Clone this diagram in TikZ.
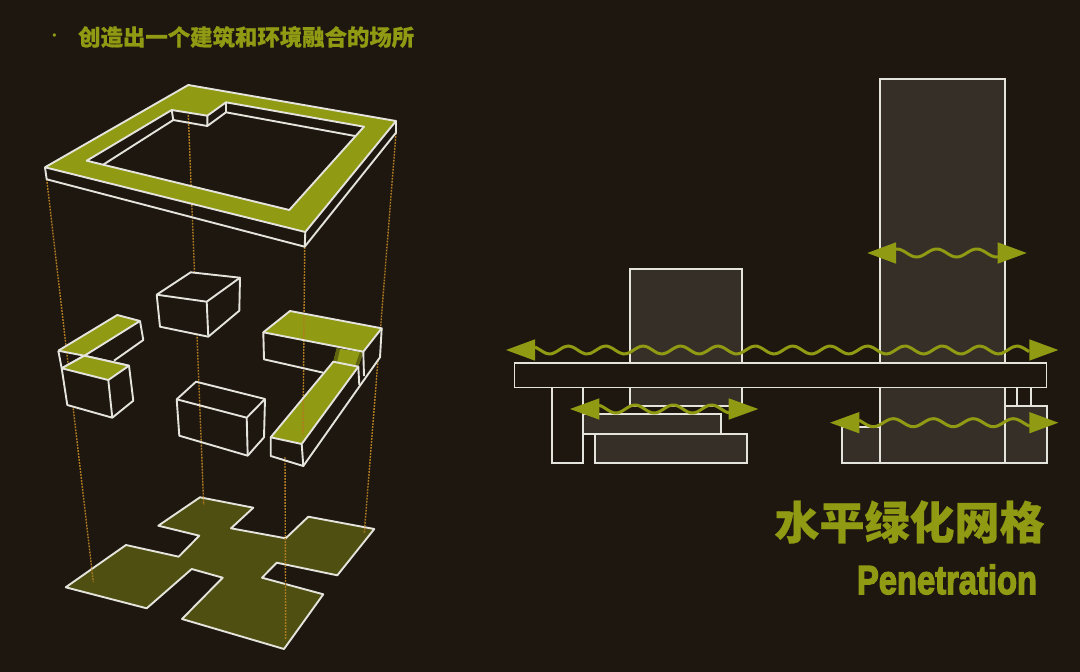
\documentclass[tikz,border=0pt]{standalone}
\usepackage{graphicx}
\usepackage{fontspec}
\setmainfont[BoldFeatures={FakeBold=3.5}]{Liberation Sans}
\newfontfamily\cjk[BoldFeatures={FakeBold=0.6}]{Noto Sans CJK SC}
\definecolor{bgc}{HTML}{1E1710}
\definecolor{grn}{HTML}{909A12}
\definecolor{grnd}{HTML}{5F6410}
\definecolor{crossc}{HTML}{4F4F12}
\definecolor{towerc}{HTML}{352F28}
\definecolor{wht}{HTML}{E4E4DC}
\definecolor{guide}{HTML}{B07C20}
\tikzset{
  iso/.style={draw=wht,line width=1.9pt,line join=round},
  isoonly/.style={fill=grn},
  guideline/.style={draw=guide,line width=1.4pt,dash pattern=on 1.8pt off 1.2pt},
  blockout/.style={fill=bgc},
  elev/.style={draw=wht,line width=1.7pt},
  elevfill/.style={elev,fill=towerc},
  wave/.style={draw=grn,line width=3pt},
  head/.style={fill=grn},
  label/.style={inner sep=0pt,text=grn,font=\cjk\bfseries}
}
% \wavy{x0}{x1}{centre y}{x of a crest}{period}
\newcommand{\wavy}[5]{\draw[wave,smooth,samples=90,domain=#1:#2] plot (\x,{#3-4*cos((360/#5)*(\x-#4))});}
% \twohead{left tip}{left base}{right base}{right tip}{y}
\newcommand{\twohead}[5]{%
  \fill[head] (#1,#5) -- (#2,#5-10.7) -- (#2,#5+10.7) -- cycle;
  \fill[head] (#4,#5) -- (#3,#5-10.7) -- (#3,#5+10.7) -- cycle;}
\begin{document}
\begin{tikzpicture}[x=1pt,y=-1pt]
\useasboundingbox (0,0) rectangle (1080,672);
\fill[bgc] (0,0) rectangle (1080,672);

% ---- ground cross
\draw[iso,fill=crossc] (200,497.3) -- (253.3,507.7) -- (231,528.3) -- (285.7,538.3) -- (308.3,516.7) -- (374.3,529) -- (337.3,575.3) -- (276.7,562.7) -- (262,577.7) -- (323.3,594.3) -- (284,649) -- (182,619) -- (222.7,577.7) -- (191.7,569) -- (146.7,608.3) -- (65.7,587.3) -- (126,545) -- (178.7,556.7) -- (199.3,535.7) -- (158.3,525.7) -- cycle;

% ---- green faces that the guide lines run over
\fill[isoonly] (58.3,350.7) -- (117.3,315) -- (140,321) -- (84,356) -- cycle;
\fill[isoonly] (263.3,332.3) -- (290,311) -- (381.7,328.3) -- (363.3,351.7) -- cycle;
\fill[isoonly] (336.7,348.3) -- (363.3,352.3) -- (358.3,366.7) -- (333.3,361.7) -- cycle;
\fill[grnd] (336.7,348.3) -- (340,349) -- (337,362) -- (333.3,361.7) -- cycle;
\fill[grnd] (363.3,352.3) -- (360,352) -- (355,366) -- (358.3,366.7) -- cycle;
\fill[isoonly] (270.7,437.3) -- (333.3,361.7) -- (358.3,366.7) -- (301.7,444) -- cycle;

% ---- guide lines
\draw[guideline] (46.7,179) -- (93.3,582);
\draw[guideline] (188.3,115) -- (203.7,505);
\draw[guideline] (304.7,247) -- (303,436);
\draw[guideline] (285,457) -- (285.7,640);
\draw[guideline] (396,133) -- (364.3,533);

% ---- top ring
\draw[iso,fill=grn,even odd rule] (188.3,85) -- (396,121) -- (305.3,232) -- (45,167.3) -- cycle
  (171.7,110) -- (207.3,115.7) -- (226,102.3) -- (364,126.7) -- (289.3,210) -- (86.7,160.7) -- cycle;
\draw[iso] (45,167.3) -- (46.7,179.3) -- (304.7,246.7) -- (305.3,232) (304.7,246.7) -- (396,132.7) -- (396,121);
\draw[iso] (171.7,110) -- (173.3,120) -- (207.3,126) -- (207.3,115.7) (207.3,126) -- (226,112.3) -- (226,102.3) (226,112.3) -- (355,136) (173.3,120) -- (102.7,165);

% ---- free box, top
\draw[iso,blockout] (156.7,294.7) -- (190.7,272.3) -- (240,277.7) -- (239.3,310.7) -- (208.3,336.7) -- (160,326.7) -- cycle;
\draw[iso] (156.7,294.7) -- (206.7,301.7) -- (240,277.7) (206.7,301.7) -- (208.3,336.7);

% ---- left L block
\draw[iso] (58.3,350.7) -- (117.3,315) -- (140,321) -- (84,356) (140,321) -- (143.3,340) -- (114,360.7);
\draw[iso] (58.3,350.7) -- (84.3,355.7) (58.3,350.7) -- (61.7,368.3);
\draw[iso,blockout] (61.7,368.3) -- (84.3,355.7) -- (129,365.7) -- (133.3,400.7) -- (112.3,417.7) -- (67.3,405) -- cycle;
\draw[iso,fill=grn] (61.7,368.3) -- (84.3,355.7) -- (129,365.7) -- (108.3,380) -- cycle;
\draw[iso] (108.3,380) -- (112.3,417.7);

% ---- free box, lower
\draw[iso] (176.7,399.3) -- (196,381.7) -- (265,399) -- (264,437.3) -- (247.7,455.7) -- (179.3,435.7) -- cycle;
\draw[iso] (176.7,399.3) -- (246.7,417.7) -- (265,399) (246.7,417.7) -- (247.7,455.7);

% ---- right block
\fill[blockout] (363.3,351.7) -- (381.7,328.3) -- (380,357.3) -- (364,376) -- cycle;
\draw[iso] (263.3,332.3) -- (290,311) -- (381.7,328.3) -- (363.3,351.7) -- cycle;
\draw[iso] (263.3,332.3) -- (264,359.3) -- (323.3,372.7);
\draw[iso] (381.7,328.3) -- (380,357.3) -- (303.3,466);
\draw[iso] (363.3,351.7) -- (364,376);
\draw[iso] (358.3,366.7) -- (359.3,385);
\draw[iso] (270.7,437.3) -- (333.3,361.7) -- (358.3,366.7) -- (301.7,444) -- cycle;
\draw[iso] (270.7,437.3) -- (270.7,456) -- (303.3,466) -- (301.7,444);

% ---- elevation
\draw[elevfill] (880,79) rectangle (1005,363);
\draw[elevfill] (630,269) rectangle (742,363);
\draw[elevfill] (630,387) rectangle (742,406);
\draw[elevfill] (880,387) rectangle (1005,463);
\draw[elevfill] (842.3,426.7) rectangle (880,463);
\draw[elevfill] (1005,406) rectangle (1047.3,463);
\draw[elev] (1016.7,387) -- (1016.7,406) (1030.7,387) -- (1030.7,406);
\draw[elev] (551.7,387) rectangle (583.3,462.7);
\draw[elevfill] (583.3,414) rectangle (721,434.3);
\draw[elevfill] (595,434.3) rectangle (747,462.7);
\draw[elev,fill=bgc] (514.5,363) rectangle (1046.5,387.5);

% ---- penetration arrows
\wavy{535}{1029}{350}{568.3}{37.4}
\twohead{506}{535}{1029.3}{1058.3}{350}
\wavy{599}{729}{409}{635}{38.3}
\twohead{570}{599.3}{728.7}{758.3}{409}
\wavy{896}{998}{253}{936.7}{40}
\twohead{867.3}{896}{997.7}{1026.7}{253}
\wavy{859}{1030}{422.7}{893.3}{40}
\twohead{830}{859.3}{1029.3}{1058.3}{422.7}

% ---- text
\node[label,anchor=center,font=\normalfont] (dot) at (54.5,37) {\fontsize{12}{12}\selectfont •};
\node[label,anchor=west] (headline) at (78,37) {\fontsize{22.4}{24}\selectfont 创造出一个建筑和环境融合的场所};
\node[label] (titlecn) at (909.5,522) {\fontsize{45}{48}\selectfont 水平绿化网格};
\node[label,font=\bfseries] (titleen) at (947,579.5) {\resizebox{180pt}{29.5pt}{Penetration}};
\end{tikzpicture}
\end{document}
